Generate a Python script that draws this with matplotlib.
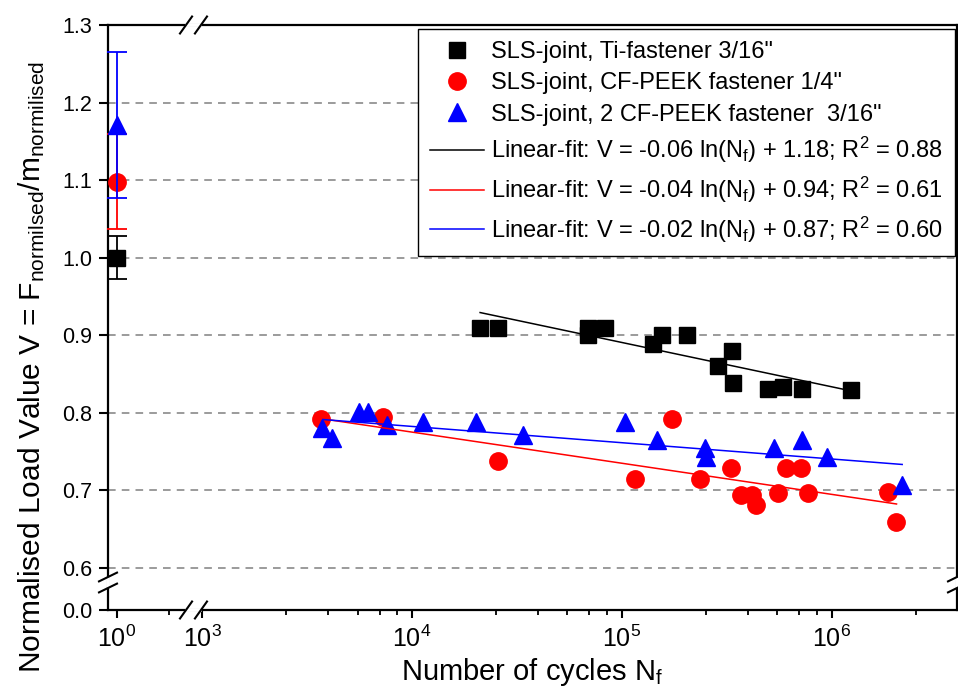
import numpy as np
import matplotlib
matplotlib.use("Agg")
import matplotlib.pyplot as plt
from matplotlib.ticker import FixedLocator, NullFormatter

plt.rcParams["font.family"] = ["Liberation Sans", "DejaVu Sans"]
plt.rcParams["mathtext.fontset"] = "custom"
plt.rcParams["mathtext.rm"] = "Liberation Sans"
plt.rcParams["mathtext.it"] = "Liberation Sans:italic"

# static reference values (N = 1) with scatter
ref_n = [1, 1, 1]
ref_v = [1.0, 1.098, 1.171]
ref_err = [0.028, 0.061, 0.094]

# SLS-joint, Ti-fastener 3/16"
ti_n = [2.11e4, 2.58e4, 6.92e4, 6.92e4, 8.3e4, 1.41e5, 1.55e5, 2.05e5,
        2.88e5, 3.33e5, 3.39e5, 4.98e5, 5.87e5, 7.18e5, 1.23e6]
ti_v = [0.909, 0.909, 0.909, 0.900, 0.909, 0.889, 0.900, 0.900,
        0.860, 0.880, 0.838, 0.830, 0.833, 0.830, 0.829]

# SLS-joint, CF-PEEK fastener 1/4"
cf_n = [3.69e3, 7.24e3, 2.58e4, 1.15e5, 1.73e5, 2.34e5, 3.30e5, 3.67e5,
        4.15e5, 4.35e5, 5.55e5, 6.04e5, 7.10e5, 7.71e5, 1.85e6, 2.02e6]
cf_v = [0.792, 0.794, 0.737, 0.714, 0.792, 0.714, 0.728, 0.694,
        0.694, 0.681, 0.696, 0.728, 0.728, 0.696, 0.697, 0.659]

# SLS-joint, 2 CF-PEEK fastener 3/16"
cf2_n = [3.72e3, 4.15e3, 5.61e3, 6.19e3, 7.58e3, 1.13e4, 2.02e4, 3.39e4,
         1.03e5, 1.46e5, 2.48e5, 2.51e5, 5.30e5, 7.23e5, 9.45e5, 2.16e6]
cf2_v = [0.780, 0.767, 0.801, 0.801, 0.784, 0.788, 0.788, 0.771,
         0.788, 0.765, 0.754, 0.742, 0.754, 0.765, 0.742, 0.706]

# linear fits (end points)
fit_ti_n, fit_ti_v = [2.11e4, 1.23e6], [0.929, 0.828]
fit_cf_n, fit_cf_v = [3.72e3, 2.03e6], [0.792, 0.682]
fit_cf2_n, fit_cf2_v = [3.76e3, 2.16e6], [0.791, 0.733]

labels = ['SLS-joint, Ti-fastener 3/16"',
          'SLS-joint, CF-PEEK fastener 1/4"',
          'SLS-joint, 2 CF-PEEK fastener  3/16"']
fit_labels = [r"Linear-fit: V = -0.06 ln(N$_{\mathrm{f}}$) + 1.18; R$^{2}$ = 0.88",
              r"Linear-fit: V = -0.04 ln(N$_{\mathrm{f}}$) + 0.94; R$^{2}$ = 0.61",
              r"Linear-fit: V = -0.02 ln(N$_{\mathrm{f}}$) + 0.87; R$^{2}$ = 0.60"]
colors = ["black", "red", "blue"]
markers = ["s", "o", "^"]
msizes = [11.5, 12.5, 13.5]


# broken x axis: 10^0 segment, then log axis from 10^3
def fwd_x(x):
    with np.errstate(all="ignore"):
        L = np.log10(np.maximum(x, 1e-12))
        lo = 2.595 + 0.622 * L
        mid = 2.962 + (L - 0.59) * 0.005 / (2.967 - 0.59)
        return np.where(L <= 0.59, lo, np.where(L < 2.967, mid, L))


def inv_x(u):
    with np.errstate(all="ignore"):
        L = np.where(u <= 2.962, (u - 2.595) / 0.622,
                     np.where(u < 2.967, 0.59 + (u - 2.962) * (2.967 - 0.59) / 0.005, u))
        return 10.0 ** L


# broken y axis: 0.0 .. 0.6 squeezed
def fwd_y(y):
    y = np.asarray(y, dtype=float)
    return np.where(y >= 0.6, y, 0.6 - (0.6 - y) * 0.0913)


def inv_y(v):
    v = np.asarray(v, dtype=float)
    return np.where(v >= 0.6, v, 0.6 - (0.6 - v) / 0.0913)


fig = plt.figure(figsize=(9.58, 6.9), dpi=100)
ax = fig.add_axes([108 / 958, 80 / 690, 849 / 958, 585 / 690])
ax.set_xscale("function", functions=(fwd_x, inv_x))
ax.set_yscale("function", functions=(fwd_y, inv_y))

for i in range(3):
    ax.errorbar([ref_n[i]], [ref_v[i]], yerr=[ref_err[i]], fmt=markers[i],
                color=colors[i], ms=msizes[i], capsize=7.5, elinewidth=1.3,
                capthick=1.3, clip_on=False, zorder=3 + i)

ax.plot(ti_n, ti_v, "s", color="black", ms=msizes[0], ls="none", label=labels[0], zorder=4)
ax.plot(cf_n, cf_v, "o", color="red", ms=msizes[1], ls="none", label=labels[1], zorder=4)
ax.plot(cf2_n, cf2_v, "^", color="blue", ms=msizes[2], ls="none", label=labels[2], zorder=5)
ax.plot(fit_ti_n, fit_ti_v, "-", color="black", lw=1.1, label=fit_labels[0], zorder=6)
ax.plot(fit_cf_n, fit_cf_v, "-", color="red", lw=1.1, label=fit_labels[1], zorder=6)
ax.plot(fit_cf2_n, fit_cf2_v, "-", color="blue", lw=1.1, label=fit_labels[2], zorder=6)

ax.set_xlim(0.853, 3.94e6)
ax.set_ylim(0.0, 1.3)

ax.xaxis.set_major_locator(FixedLocator([1, 1e3, 1e4, 1e5, 1e6]))
ax.set_xticklabels(["10$^{0}$", "10$^{3}$", "10$^{4}$", "10$^{5}$", "10$^{6}$"])
minor = [2.5] + [m * 10 ** e for e in (3, 4, 5) for m in (2.5, 4, 5.5, 7, 8.5)] + [2.5e6]
ax.xaxis.set_minor_locator(FixedLocator(minor))
ax.xaxis.set_minor_formatter(NullFormatter())

yt = [0.0, 0.6, 0.7, 0.8, 0.9, 1.0, 1.1, 1.2, 1.3]
ax.yaxis.set_major_locator(FixedLocator(yt))
ax.set_yticklabels(["%.1f" % t for t in yt])
ax.yaxis.set_minor_locator(FixedLocator([]))

ax.tick_params(axis="x", which="major", direction="out", length=6, width=1.5,
               labelsize=18, pad=5)
ax.tick_params(axis="x", which="minor", direction="out", length=3.3, width=1.3)
ax.tick_params(axis="y", which="major", direction="out", length=6.5, width=1.5,
               labelsize=15.5, pad=5)
for s in ax.spines.values():
    s.set_linewidth(1.6)

ax.set_axisbelow(True)
ax.grid(axis="y", color="#808080", ls=(0, (5, 4)), lw=1.1)

ax.set_xlabel(r"Number of cycles N$_{\mathrm{f}}$", fontsize=21, labelpad=3)
ax.set_ylabel(r"Normalised Load Value V = F$_{\mathrm{normilsed}}$/m$_{\mathrm{normilised}}$",
              fontsize=21.5)
ax.yaxis.set_label_coords(-0.072, 0.415)

# break marks
tr = ax.transAxes
for xc in (0.0919, 0.1095):
    for yc in (0.0, 1.0):
        ax.plot([xc - 0.0071, xc + 0.0071], [yc - 0.0145, yc + 0.0145], color="black",
                lw=1.5, transform=tr, clip_on=False, zorder=10)
for yc in (0.0, 1.0):
    ax.plot([0.0935, 0.1079], [yc, yc], color="white", lw=2.6, transform=tr,
            clip_on=False, zorder=9)
for xc in (0.0, 1.0):
    for yc in (0.0564, 0.0376):
        ax.plot([xc - 0.0106, xc + 0.0106], [yc - 0.0075, yc + 0.0075], color="black",
                lw=1.5, transform=tr, clip_on=False, zorder=10)
    ax.plot([xc, xc], [0.0405, 0.0535], color="white", lw=2.6, transform=tr,
            clip_on=False, zorder=9)

leg = ax.legend(loc="upper right", bbox_to_anchor=(955 / 958, 1 - 29 / 690),
                bbox_transform=fig.transFigure, borderaxespad=0, fontsize=17,
                fancybox=False, framealpha=1, edgecolor="black", handlelength=2.3,
                handletextpad=0.3, labelspacing=0.4, borderpad=0.5)
leg.get_frame().set_linewidth(1.0)

fig.savefig("out.png", dpi=100)
